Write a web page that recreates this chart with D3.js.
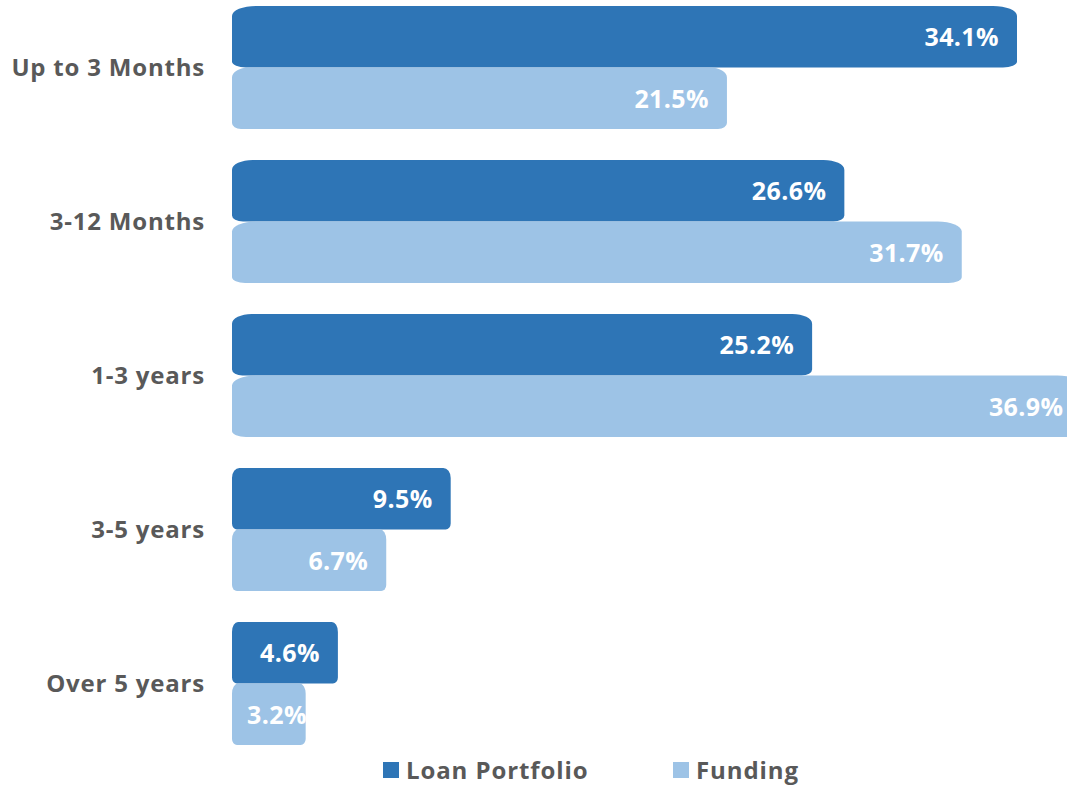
<!DOCTYPE html>
<html>
<head>
<meta charset="utf-8">
<script src="https://cdn.jsdelivr.net/npm/d3@7"></script>
<style>
  html, body { margin: 0; padding: 0; background: #fff; }
  svg { display: block; }
  text { font-family: "Open Sans", "DejaVu Sans", sans-serif; font-weight: 700; }
</style>
</head>
<body>
<svg id="chart" width="1067" height="788"></svg>
<script>
// Maturity buckets and the share (%) of each series per bucket
const categories = ["Up to 3 Months", "3-12 Months", "1-3 years", "3-5 years", "Over 5 years"];
const loanPortfolio = [34.1, 26.6, 25.2, 9.5, 4.6];
const funding = [21.5, 31.7, 36.9, 6.7, 3.2];
const seriesNames = ["Loan Portfolio", "Funding"];
const seriesColors = ["#2E75B6", "#9DC3E6"];

const svg = d3.select("#chart");

const x0 = 232;
const x = d3.scaleLinear().domain([0, 34.1]).range([x0, 1017]);

const y = d3.scaleBand().domain(categories).range([-9.5, 760.5])
  .paddingInner(0.2).paddingOuter(0.1);
const ySub = d3.scaleBand().domain(seriesNames).range([0, y.bandwidth()]);

const rows = categories.map((c, i) => ({
  cat: c,
  vals: [
    { s: seriesNames[0], v: loanPortfolio[i], color: seriesColors[0] },
    { s: seriesNames[1], v: funding[i], color: seriesColors[1] }
  ]
}));

// Rounded bar outline: softer, wider corners on top, tighter ones at the bottom
function barPath(x1, y1, w, h) {
  const rxT = Math.max(6, Math.min(24, w * 0.034));
  const ryT = Math.min(10, h / 2);
  const rxB = Math.max(5, Math.min(14, w * 0.018));
  const ryB = Math.min(6, h / 2);
  const x2 = x1 + w, y2 = y1 + h;
  return `M${x1},${y1 + ryT}` +
    `A${rxT},${ryT} 0 0 1 ${x1 + rxT},${y1}` +
    `L${x2 - rxT},${y1}` +
    `A${rxT},${ryT} 0 0 1 ${x2},${y1 + ryT}` +
    `L${x2},${y2 - ryB}` +
    `A${rxB},${ryB} 0 0 1 ${x2 - rxB},${y2}` +
    `L${x1 + rxB},${y2}` +
    `A${rxB},${ryB} 0 0 1 ${x1},${y2 - ryB}Z`;
}

const g = svg.append("g");
const group = g.selectAll("g.cat").data(rows).join("g")
  .attr("class", "cat")
  .attr("transform", d => `translate(0,${y(d.cat)})`);

group.selectAll("path.bar").data(d => d.vals).join("path")
  .attr("class", "bar")
  .attr("fill", d => d.color)
  .attr("d", d => barPath(x(0), ySub(d.s), x(d.v) - x(0), ySub.bandwidth()));

// Value labels just inside the bar end, kept clear of the bar start
group.selectAll("text.val").data(d => d.vals).join("text")
  .attr("class", "val")
  .attr("fill", "#fff")
  .attr("font-size", 25)
  .attr("letter-spacing", 0.4)
  .attr("text-anchor", "end")
  .attr("y", d => ySub(d.s) + ySub.bandwidth() / 2)
  .attr("dy", "0.38em")
  .text(d => d.v.toFixed(1) + "%")
  .attr("x", function(d) {
    const tw = this.getComputedTextLength();
    return Math.max(x(d.v) - 18, x(0) + 15 + tw);
  });

// Category axis labels
const yAxis = d3.axisLeft(y).tickSize(0).tickPadding(0);
const axisG = svg.append("g").attr("transform", `translate(205,0)`).call(yAxis);
axisG.select(".domain").remove();
axisG.selectAll("text")
  .attr("font-size", 24)
  .attr("letter-spacing", 0.8)
  .attr("fill", "#595959")
  .attr("font-family", "'Open Sans', 'DejaVu Sans', sans-serif")
  .attr("font-weight", 700)
  .attr("dy", "0.36em");

// Legend
const legendItems = [
  { name: seriesNames[0], color: seriesColors[0], x: 383 },
  { name: seriesNames[1], color: seriesColors[1], x: 673 }
];
const lg = svg.append("g").selectAll("g").data(legendItems).join("g")
  .attr("transform", d => `translate(${d.x},762)`);
lg.append("rect").attr("width", 16).attr("height", 16).attr("fill", d => d.color);
lg.append("text").attr("x", 23).attr("y", 17)
  .attr("font-size", 24).attr("letter-spacing", 0.9).attr("fill", "#595959")
  .text(d => d.name);
</script>
</body>
</html>
